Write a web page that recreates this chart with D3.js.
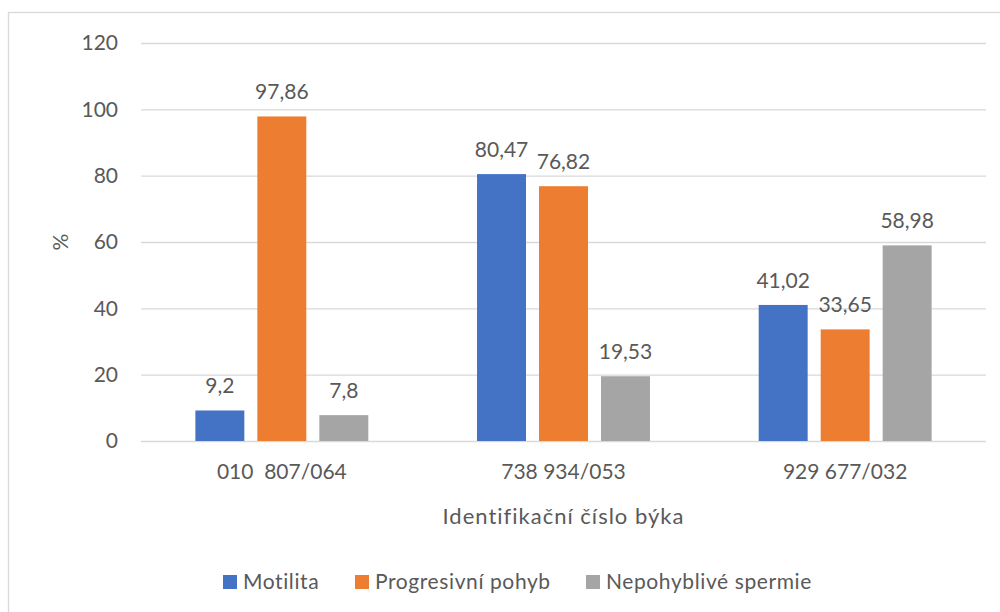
<!DOCTYPE html>
<html lang="cs">
<head>
<meta charset="utf-8">
<title>Identifikační číslo býka</title>
<style>
  body { margin: 0; background: #fff; font-family: Lato, "Open Sans", sans-serif; }
  svg text { fill: #595959; font-size: 21px; }
  .grid line { stroke: #d9d9d9; stroke-width: 1.3px; }
  .grid path { display: none; }
  text.title { font-size: 22px; letter-spacing: 1px; }
  .legend text { letter-spacing: 0.6px; }
</style>
</head>
<body>
<script src="https://cdnjs.cloudflare.com/ajax/libs/d3/7.8.5/d3.min.js"></script>
<script>
var categories = ["010  807/064", "738 934/053", "929 677/032"];
var seriesNames = ["Motilita", "Progresivní pohyb", "Nepohyblivé spermie"];
var motilita = [9.2, 80.47, 41.02];
var progresivni = [97.86, 76.82, 33.65];
var nepohyblive = [7.8, 19.53, 58.98];
var labels = [["9,2", "80,47", "41,02"], ["97,86", "76,82", "33,65"], ["7,8", "19,53", "58,98"]];
var yTicks = [0, 20, 40, 60, 80, 100, 120];
var colors = ["#4472c4", "#ed7d31", "#a5a5a5"];

var series = [motilita, progresivni, nepohyblive];

var fullwidth = 1000, fullheight = 612;
var plotLeft = 141, plotRight = 986, plotTop = 43, plotBottom = 441;

var svg = d3.select("body").append("svg")
  .attr("width", fullwidth)
  .attr("height", fullheight);

// chart frame
svg.append("rect")
  .attr("x", 8.5).attr("y", 12.5)
  .attr("width", 1100).attr("height", 700)
  .attr("fill", "none")
  .attr("stroke", "#d9d9d9")
  .attr("stroke-width", 1.3);

var x0 = d3.scaleBand().domain(categories).range([plotLeft, plotRight]).paddingInner(0.386).paddingOuter(0.193);
var x1 = d3.scaleBand().domain(d3.range(3)).range([0, x0.bandwidth()]).paddingInner(0.21);
var y = d3.scaleLinear().domain([0, 120]).range([plotBottom, plotTop]);

// gridlines
svg.append("g")
  .attr("class", "grid")
  .attr("transform", "translate(" + plotLeft + ",0)")
  .call(d3.axisRight(y).tickValues(yTicks).tickSize(plotRight - plotLeft).tickFormat(""));

svg.selectAll("text.ylab")
  .data(yTicks)
  .enter().append("text")
  .attr("class", "ylab")
  .attr("x", 118)
  .attr("y", function(d) { return y(d); })
  .attr("dy", "0.35em")
  .attr("text-anchor", "end")
  .text(function(d) { return d; });

// bars
var groups = svg.selectAll("g.cat")
  .data(categories)
  .enter().append("g")
  .attr("class", "cat")
  .attr("transform", function(d) { return "translate(" + x0(d) + ",0)"; });

groups.each(function(c, ci) {
  var g = d3.select(this);
  series.forEach(function(s, si) {
    g.append("rect")
      .attr("x", x1(si))
      .attr("y", y(s[ci]))
      .attr("width", x1.bandwidth())
      .attr("height", y(0) - y(s[ci]))
      .attr("fill", colors[si]);
    g.append("text")
      .attr("x", x1(si) + x1.bandwidth() / 2)
      .attr("y", y(s[ci]) - 17)
      .attr("text-anchor", "middle")
      .text(labels[si][ci]);
  });
});

// category labels
svg.selectAll("text.xlab")
  .data(categories)
  .enter().append("text")
  .attr("class", "xlab")
  .attr("x", function(d) { return x0(d) + x0.bandwidth() / 2; })
  .attr("y", 479)
  .attr("text-anchor", "middle")
  .style("white-space", "pre")
  .text(function(d) { return d; });

// axis titles
svg.append("text")
  .attr("class", "title")
  .attr("x", (plotLeft + plotRight) / 2)
  .attr("y", 524)
  .attr("text-anchor", "middle")
  .text("Identifikační číslo býka");

svg.append("text")
  .attr("transform", "translate(61,242) rotate(-90)")
  .attr("dy", "0.35em")
  .attr("text-anchor", "middle")
  .text("%");

// legend
var legendX = [223, 355, 586];
var legend = svg.selectAll("g.legend")
  .data(seriesNames)
  .enter().append("g")
  .attr("class", "legend")
  .attr("transform", function(d, i) { return "translate(" + legendX[i] + ",575)"; });

legend.append("rect")
  .attr("width", 14).attr("height", 14)
  .attr("fill", function(d, i) { return colors[i]; });

legend.append("text")
  .attr("x", 20)
  .attr("y", 14)
  .text(function(d) { return d; });
</script>
</body>
</html>
